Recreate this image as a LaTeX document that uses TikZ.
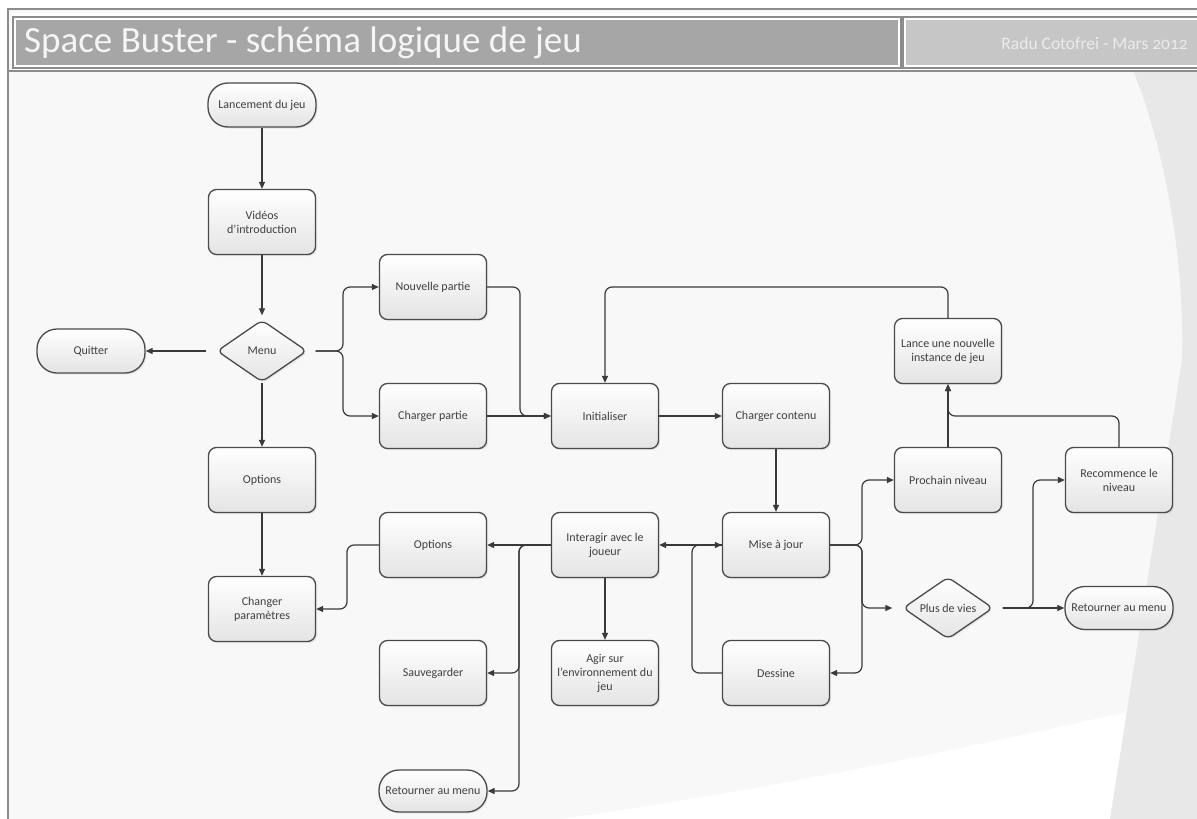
\documentclass[tikz,border=0pt]{standalone}
\usepackage{fontspec}
\setmainfont{Carlito}
\newfontfamily\datefont[Numbers=OldStyle]{Carlito}
\usetikzlibrary{arrows.meta,shapes.geometric,shadows}
\definecolor{bodybg}{HTML}{F8F8F8}
\definecolor{bandgray}{HTML}{E8E8E8}
\definecolor{framegray}{HTML}{8C8C8C}
\definecolor{titledark}{HTML}{A6A6A6}
\definecolor{titlelight}{HTML}{C6C6C6}
\definecolor{boxedge}{HTML}{4A4A4A}
\definecolor{boxbot}{HTML}{E4E4E4}
\definecolor{txt}{HTML}{404040}
\definecolor{linecol}{HTML}{3A3A3A}
\begin{document}
\begin{tikzpicture}[x=1pt,y=-1pt,
  flowbox/.style={draw=boxedge, line width=1.3pt, rounded corners=8pt,
    minimum width=107pt, minimum height=65pt, inner sep=2pt, align=center,
    top color=white, bottom color=boxbot,
    drop shadow={shadow xshift=1.5pt, shadow yshift=-1.5pt, opacity=0.15},
    text=txt, font=\fontsize{12}{14}\selectfont},
  term/.style={flowbox, rounded corners=20pt, minimum height=44pt, minimum width=108pt},
  decision/.style={flowbox, diamond, rounded corners=6pt, minimum width=90pt,
    minimum height=62pt, aspect=1.45, inner sep=0pt},
  conn/.style={draw=linecol, line width=1.2pt, rounded corners=7pt,
    -{Triangle[length=7pt,width=6pt]}},
  plain/.style={draw=linecol, line width=1.2pt, rounded corners=7pt}]
\useasboundingbox (0,0) rectangle (1197,819);
% background
\fill[white] (0,0) rectangle (1197,819);
\fill[bodybg] (8,9) rectangle (1197,819);
\fill[white] (560,819) .. controls (800,785) and (1000,740) .. (1127,712) -- (1110,819) -- cycle;
\fill[bandgray] (1133,70) .. controls (1165,150) and (1185,260) .. (1182,360) -- (1110,819) -- (1197,819) -- (1197,70) -- cycle;
\draw[framegray, line width=1.5pt] (8,9) rectangle (1210,830);
% title bar
\fill[white] (11,13) rectangle (1197,71);
\draw[framegray, line width=1.2pt] (13,17) rectangle (901,68);
\fill[titledark] (16,20) rectangle (898,65);
\draw[framegray, line width=1.2pt] (903,17) rectangle (1210,68);
\fill[titlelight] (906,20) rectangle (1210,65);
\draw[framegray, line width=1.2pt] (8,71) -- (1197,71);
\node[anchor=west, text=white!96!black, font=\fontsize{37}{40}\selectfont, inner sep=0pt] (title) at (24,43) {Space Buster - schéma logique de jeu};
\node[anchor=east, text=white!92!black, font=\datefont\fontsize{17.5}{20}\selectfont, inner sep=0pt] (author) at (1188,43) {Radu Cotofrei - Mars 2012};
% nodes
\node[term] (lanc) at (262,105) {Lancement du jeu};
\node[flowbox] (vid) at (262,222) {Vidéos\\d’introduction};
\node[decision] (menu) at (262,351) {Menu};
\node[term] (quit) at (91,351) {Quitter};
\node[flowbox] (opt1) at (262,480) {Options};
\node[flowbox] (chp) at (262,609) {Changer\\paramètres};
\node[flowbox] (np) at (433,287) {Nouvelle partie};
\node[flowbox] (cp) at (433,416) {Charger partie};
\node[flowbox] (init) at (605,416) {Initialiser};
\node[flowbox] (cc) at (776,416) {Charger contenu};
\node[flowbox] (maj) at (776,545) {Mise à jour};
\node[flowbox] (dess) at (776,673) {Dessine};
\node[flowbox] (inter) at (605,545) {Interagir avec le\\joueur};
\node[flowbox] (opt2) at (433,545) {Options};
\node[flowbox] (sauv) at (433,673) {Sauvegarder};
\node[flowbox] (agir) at (605,673) {Agir sur\\l’environnement du\\jeu};
\node[term, minimum height=42pt] (ret1) at (433,791) {Retourner au menu};
\node[flowbox] (pn) at (948,480) {Prochain niveau};
\node[flowbox] (lance) at (948,351) {Lance une nouvelle\\instance de jeu};
\node[flowbox] (rec) at (1119,480) {Recommence le\\niveau};
\node[decision] (pdv) at (948,608) {Plus de vies};
\node[term, minimum height=43pt] (ret2) at (1119,608) {Retourner au menu};
% junction coordinates
\coordinate (b1) at (343,351);
\coordinate (b2) at (520,416);
\coordinate (top) at (700,287);
\coordinate (b3) at (862,545);
\coordinate (lx) at (692,545);
\coordinate (b5) at (519,545);
\coordinate (b6) at (347,577);
\coordinate (j) at (1000,416);
\coordinate (b7) at (1033,608);
% connectors
\draw[conn] (lanc) -- (vid);
\draw[conn] (vid) -- ([yshift=4pt]menu.north);
\draw[conn] ([xshift=-10pt]menu.west) -- (quit.east);
\draw[conn] (menu) -- (opt1);
\draw[conn] (opt1) -- (chp);
\draw[conn] ([xshift=8pt]menu.east) -- (b1) |- (np.west);
\draw[conn] ([xshift=8pt]menu.east) -- (b1) |- (cp.west);
\draw[conn] (np.east) -| (b2) -- (init.west);
\draw[conn] (cp.east) -- (init.west);
\draw[conn] (init) -- (cc);
\draw[conn] (cc) -- (maj);
\draw[conn] (lance.north) -- (lance.north |- top) -| (init.north);
\draw[conn] (maj.east) -- (b3) |- (pn.west);
\draw[conn] (maj.east) -- (b3) |- ([xshift=-10pt]pdv.west);
\draw[conn] (maj.east) -- (b3) |- (dess.east);
\draw[conn] (dess.west) -| (lx) -- (maj.west);
\draw[conn] (maj.west) -- (inter.east);
\draw[conn] (inter.west) -- (opt2.east);
\draw[conn] (inter.west) -- (b5) |- (sauv.east);
\draw[conn] (inter.west) -- (b5) |- (ret1.east);
\draw[conn] (inter) -- (agir);
\draw[conn] (opt2.west) -| (b6) |- (chp.east);
\draw[conn] (pn) -- (lance);
\draw[conn] (rec.north) |- (j) -| (lance.south);
\draw[conn] ([xshift=9pt]pdv.east) -- (b7) |- (rec.west);
\draw[conn] ([xshift=9pt]pdv.east) -- (ret2.west);
\end{tikzpicture}
\end{document}
